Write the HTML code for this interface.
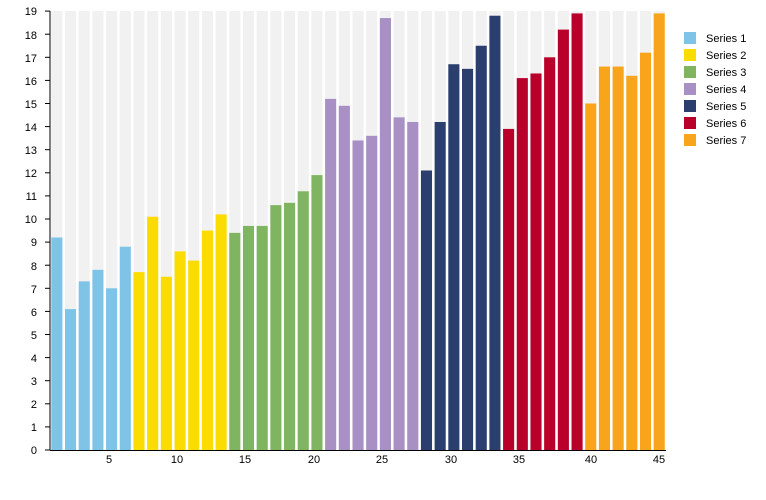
<!DOCTYPE html>
<html><head><meta charset="utf-8"><style>body{margin:0;background:#fff}svg{display:block;font-family:"Liberation Sans",sans-serif;font-size:11px}</style></head>
<body>
<svg id="s" width="766" height="500" xmlns="http://www.w3.org/2000/svg">
<g id="bg"></g><g id="bars"></g>
<line x1="50" y1="11" x2="50" y2="450.5" stroke="#000"/>
<line x1="50" y1="450.5" x2="666" y2="450.5" stroke="#000"/>
<g id="yt" text-anchor="end" fill="#000">
<text x="37" y="454">0</text><text x="37" y="431">1</text><text x="37" y="408">2</text><text x="37" y="385">3</text><text x="37" y="362">4</text><text x="37" y="339">5</text><text x="37" y="316">6</text><text x="37" y="293">7</text><text x="37" y="270">8</text><text x="37" y="246">9</text><text x="37" y="223">10</text><text x="37" y="200">11</text><text x="37" y="177">12</text><text x="37" y="154">13</text><text x="37" y="131">14</text><text x="37" y="108">15</text><text x="37" y="85">16</text><text x="37" y="62">17</text><text x="37" y="39">18</text><text x="37" y="15">19</text>
</g>
<g text-anchor="middle">
<text x="109" y="463">5</text><text x="177" y="463">10</text><text x="245" y="463">15</text><text x="314" y="463">20</text><text x="382" y="463">25</text><text x="451" y="463">30</text><text x="519" y="463">35</text><text x="591" y="463">40</text><text x="659" y="463">45</text>
</g>
<g>
<rect x="684" y="32" width="12" height="12" fill="#7fc4e6"/><text x="706" y="42">Series 1</text>
<rect x="684" y="49" width="12" height="12" fill="#fbdc00"/><text x="706" y="59">Series 2</text>
<rect x="684" y="66" width="12" height="12" fill="#7fb561"/><text x="706" y="76">Series 3</text>
<rect x="684" y="83" width="12" height="12" fill="#a890c4"/><text x="706" y="93">Series 4</text>
<rect x="684" y="100" width="12" height="12" fill="#2a3f6e"/><text x="706" y="110">Series 5</text>
<rect x="684" y="117" width="12" height="12" fill="#b9002a"/><text x="706" y="127">Series 6</text>
<rect x="684" y="134" width="12" height="12" fill="#f8a51c"/><text x="706" y="144">Series 7</text>
</g>
</svg>
<script>
var v=[9.2,6.1,7.3,7.8,7.0,8.8, 7.7,10.1,7.5,8.6,8.2,9.5,10.2, 9.4,9.7,9.7,10.6,10.7,11.2,11.9, 15.2,14.9,13.4,13.6,18.7,14.4,14.2, 12.1,14.2,16.7,16.5,17.5,18.8, 13.9,16.1,16.3,17.0,18.2,18.9, 15.0,16.6,16.6,16.2,17.2,18.9];
var c=["#7fc4e6","#fbdc00","#7fb561","#a890c4","#2a3f6e","#b9002a","#f8a51c"],n=[6,7,7,7,6,6,6],col=[];
n.forEach(function(k,i){for(var j=0;j<k;j++)col.push(c[i]);});
var w=13.69,bg="",b="";
for(var i=0;i<45;i++){var x=50+i*w+1.3,bw=w-2.6,h=v[i]*23.1;
bg+='<rect x="'+x+'" y="11" width="'+bw+'" height="439" fill="#f1f1f1"/>';
b+='<rect x="'+x+'" y="'+(450-h)+'" width="'+bw+'" height="'+h+'" fill="'+col[i]+'"/>';}
document.getElementById("bg").innerHTML=bg;document.getElementById("bars").innerHTML=b;
var yt="";for(var k=0;k<=19;k++){var y=450-k*23.1;yt+='<line x1="45" x2="50" y1="'+y+'" y2="'+y+'" stroke="#000"/>';}
document.getElementById("bars").innerHTML+=yt;
</script>
</body></html>
